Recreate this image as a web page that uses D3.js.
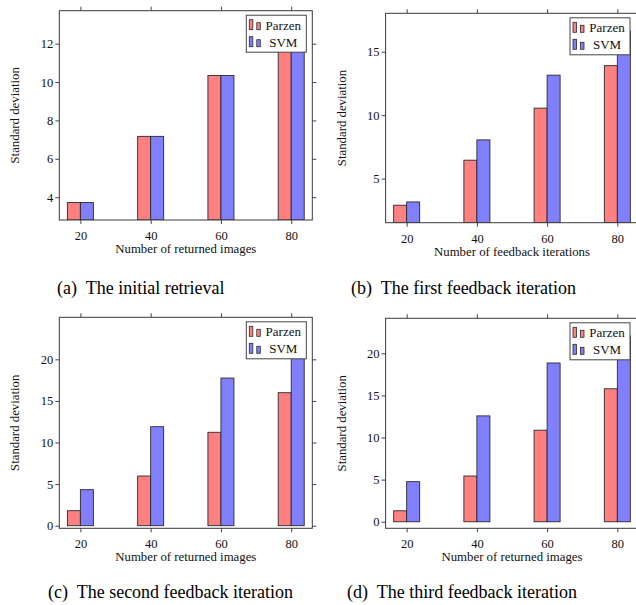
<!DOCTYPE html>
<html lang="en">
<head>
<meta charset="UTF-8">
<title>Standard deviation, Parzen vs SVM</title>
<script src="https://cdnjs.cloudflare.com/ajax/libs/d3/7.8.5/d3.min.js"></script>
<style>
    body { margin: 0; background: #fff; }
    svg { display: block; font-family: "Liberation Serif", "Times New Roman", serif; }
    .tick text { font-family: "Liberation Serif", "Times New Roman", serif; font-size: 12.5px; fill: #111; }
    .axis path { display: none; }
    .axis line { stroke: #444; }
</style>
</head>
<body>
<svg width="636" height="605"></svg>
<script>
    // values
    const returned = [20, 40, 60, 80];
    const series = ["Parzen", "SVM"];
    const parzenA = [3.72, 7.17, 10.34, 12.81];
    const svmA    = [3.72, 7.17, 10.34, 12.81];
    const parzenB = [2.90, 6.45, 10.55, 13.90];
    const svmB    = [3.16, 8.05, 13.15, 16.65];
    const parzenC = [1.80, 5.97, 11.23, 15.99];
    const svmC    = [4.33, 11.90, 17.75, 22.94];
    const parzenD = [1.30, 5.43, 10.87, 15.79];
    const svmD    = [4.76, 12.57, 18.85, 22.08];
    const ticksAB = [[4, 6, 8, 10, 12], [5, 10, 15]];
    const ticksCD = [[0, 5, 10, 15, 20], [0, 5, 10, 15, 20]];
    const captions = ["(a)  The initial retrieval", "(b)  The first feedback iteration",
                      "(c)  The second feedback iteration", "(d)  The third feedback iteration"];
    const xLabels = ["Number of returned images", "Number of feedback iterations",
                     "Number of returned images", "Number of returned images"];

    const colors = { Parzen: "#ff8080", SVM: "#8080ff" };
    const svg = d3.select("svg");

    // frame boxes of the four panels
    const panels = [
        { x0: 59.3, x1: 312.3, y0: 10.7, y1: 220, data: [parzenA, svmA], ticks: ticksAB[0], capX: 57, capY: 294 },
        { x0: 385.6, x1: 638.4, y0: 13.3, y1: 222.7, data: [parzenB, svmB], ticks: ticksAB[1], capX: 351, capY: 294 },
        { x0: 59.3, x1: 312.3, y0: 317.3, y1: 528.3, data: [parzenC, svmC], ticks: ticksCD[0], capX: 48, capY: 598 },
        { x0: 385.6, x1: 638.4, y0: 318.3, y1: 528.3, data: [parzenD, svmD], ticks: ticksCD[1], capX: 347, capY: 598 }
    ];

    const barW = 13;

    panels.forEach((p, i) => {
        const g = svg.append("g");

        // pgfplots style: 10% enlargement of the data range
        const all = p.data.flat();
        const lo = d3.min(all), hi = d3.max(all);
        const pad = (hi - lo) * 0.1;
        const x = d3.scaleLinear().domain([14, 86]).range([p.x0, p.x1]);
        const y = d3.scaleLinear().domain([lo - pad, hi + pad]).range([p.y1, p.y0]);
        const base = y.domain()[0] < 0 ? 0 : y.domain()[0];

        const clipId = "clip" + i;
        g.append("clipPath").attr("id", clipId)
            .append("rect").attr("x", p.x0).attr("y", p.y0)
            .attr("width", p.x1 - p.x0).attr("height", p.y1 - p.y0);

        const bars = g.append("g").attr("clip-path", `url(#${clipId})`);
        series.forEach((s, si) => {
            bars.selectAll(null)
                .data(returned.map((r, k) => ({ r, v: p.data[si][k] })))
                .enter().append("rect")
                .attr("x", d => x(d.r) - barW + si * barW)
                .attr("y", d => y(d.v))
                .attr("width", barW)
                .attr("height", d => y(base) - y(d.v))
                .attr("fill", colors[s])
                .attr("stroke", "#2a2a2a")
                .attr("stroke-width", 0.9);
        });

        // axes with outward ticks on all four sides
        g.append("g").attr("class", "axis")
            .attr("transform", `translate(0,${p.y1})`)
            .call(d3.axisBottom(x).tickValues(returned).tickSize(4).tickPadding(7));
        g.append("g").attr("class", "axis")
            .attr("transform", `translate(0,${p.y0})`)
            .call(d3.axisTop(x).tickValues(returned).tickSize(4).tickFormat(""));
        g.append("g").attr("class", "axis")
            .attr("transform", `translate(${p.x0},0)`)
            .call(d3.axisLeft(y).tickValues(p.ticks).tickSize(4).tickPadding(2));
        g.append("g").attr("class", "axis")
            .attr("transform", `translate(${p.x1},0)`)
            .call(d3.axisRight(y).tickValues(p.ticks).tickSize(4).tickFormat(""));

        g.append("rect")
            .attr("x", p.x0).attr("y", p.y0)
            .attr("width", p.x1 - p.x0).attr("height", p.y1 - p.y0)
            .attr("fill", "none").attr("stroke", "#3a3a3a").attr("stroke-width", 1);

        // axis titles
        g.append("text")
            .attr("x", (p.x0 + p.x1) / 2).attr("y", p.y1 + 33)
            .attr("text-anchor", "middle").attr("font-size", 12.8).attr("fill", "#111")
            .text(xLabels[i]);
        g.append("text")
            .attr("transform", `translate(${p.x0 - 40},${(p.y0 + p.y1) / 2}) rotate(-90)`)
            .attr("text-anchor", "middle").attr("font-size", 12.8).attr("fill", "#111")
            .text("Standard deviation");

        // legend
        const lw = 60, lh = 37;
        const lx = Math.min(p.x1, 636) - lw - 6, ly = p.y0 + 4.5;
        const leg = g.append("g").attr("transform", `translate(${lx},${ly})`);
        leg.append("rect").attr("width", lw).attr("height", lh)
            .attr("fill", "#fff").attr("stroke", "#444").attr("stroke-width", 1);
        series.forEach((s, si) => {
            const row = leg.append("g").attr("transform", `translate(0,${14.5 + si * 17})`);
            [[3, 10], [10.5, 7]].forEach(([bx, bh]) => {
                row.append("rect").attr("x", bx).attr("y", -bh).attr("width", 3.5).attr("height", bh)
                    .attr("fill", colors[s]).attr("stroke", "#2a2a2a").attr("stroke-width", 0.8);
            });
            row.append("text").attr("x", 37).attr("y", 0)
                .attr("text-anchor", "middle").attr("font-size", 13).attr("fill", "#111")
                .text(s);
        });

        // caption
        svg.append("text")
            .attr("x", p.capX).attr("y", p.capY)
            .attr("font-size", 18).attr("fill", "#000")
            .attr("xml:space", "preserve")
            .text(captions[i]);
    });
</script>
</body>
</html>
